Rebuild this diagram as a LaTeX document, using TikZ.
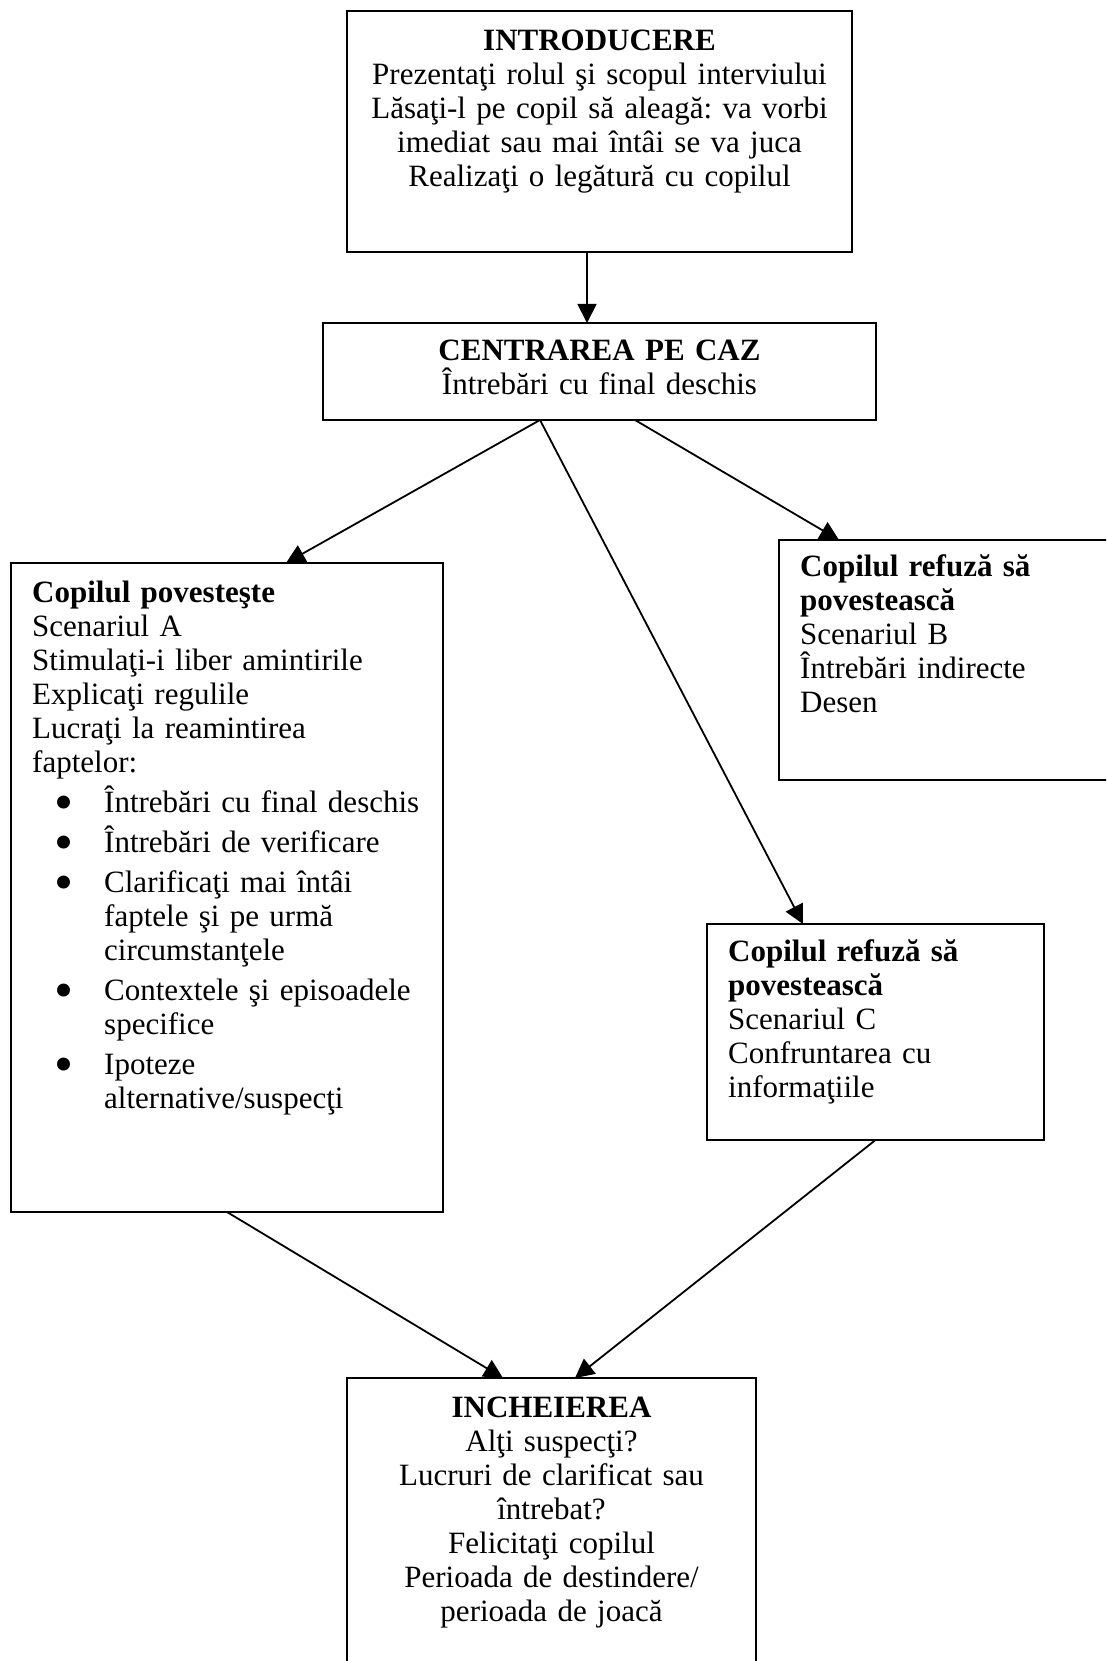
\documentclass[tikz,border=0pt]{standalone}
\usepackage{fontspec}
\setmainfont{Liberation Serif}
\usetikzlibrary{arrows.meta}
\tikzset{
>={Triangle[length=19pt,width=19pt]},
caseta/.style={draw,line width=1.8pt,inner sep=0pt,outer sep=0pt,anchor=north west},
sageata/.style={->,line width=1.8pt},
text stanga/.style={inner sep=0pt,text width=#1,align=left,anchor=base west},
text centru/.style={inner sep=0pt,text width=#1,align=center,anchor=base}}
\newcommand{\punct}{\makebox[72pt][l]{\hspace*{22pt}\smash{\raisebox{-8pt}{\scalebox{1.75}{\textbullet}}}}}
\newcommand{\retras}{\hspace*{72pt}}

\begin{document}
\begin{tikzpicture}[x=1pt,y=-1pt,font=\fontsize{31}{34}\selectfont\frenchspacing]
\clip (0,0) rectangle (1106,1661);

\node[caseta,minimum width=505pt,minimum height=241pt] (intro) at (347,11) {};
\node[caseta,minimum width=553pt,minimum height=97pt] (centru) at (323,323) {};
\node[caseta,minimum width=432pt,minimum height=649pt] (povesteste) at (11,563) {};
\node[caseta,minimum width=360pt,minimum height=240pt] (refuzB) at (779,540) {};
\node[caseta,minimum width=337pt,minimum height=216pt] (refuzC) at (707,924) {};
\node[caseta,minimum width=409pt,minimum height=330pt] (final) at (347,1378) {};

\node[text centru=500pt] (intro text) at (599.5,51) {\textbf{INTRODUCERE}\\Prezentaţi rolul şi scopul interviului\\Lăsaţi-l pe copil să aleagă: va vorbi\\imediat sau mai întâi se va juca\\Realizaţi o legătură cu copilul};
\node[text centru=540pt] (centru text) at (599.5,360) {\textbf{CENTRAREA PE CAZ}\\Întrebări cu final deschis};
\node[text stanga=420pt] (povesteste text) at (32,602) {\textbf{Copilul povesteşte}\\Scenariul A\\Stimulaţi-i liber amintirile\\Explicaţi regulile\\Lucraţi la reamintirea\\faptelor:\\[6pt]
\punct Întrebări cu final deschis\\[6pt]
\punct Întrebări de verificare\\[6pt]
\punct Clarificaţi mai întâi\\\retras faptele şi pe urmă\\\retras circumstanţele\\[6pt]
\punct Contextele şi episoadele\\\retras specifice\\[6pt]
\punct Ipoteze\\\retras alternative/suspecţi};
\node[text stanga=300pt] (refuzB text) at (800,576) {\textbf{Copilul refuză să}\\\textbf{povestească}\\Scenariul B\\Întrebări indirecte\\Desen};
\node[text stanga=300pt] (refuzC text) at (728,961) {\textbf{Copilul refuză să}\\\textbf{povestească}\\Scenariul C\\Confruntarea cu\\informaţiile};
\node[text centru=400pt] (final text) at (551.5,1417) {\textbf{INCHEIEREA}\\Alţi suspecţi?\\Lucruri de clarificat sau\\întrebat?\\Felicitaţi copilul\\Perioada de destindere/\\perioada de joacă};

\draw[sageata] ([xshift=-12.5pt]intro.south) -- ([xshift=-12.5pt]centru.north);
\draw[sageata] ([xshift=-59.5pt]centru.south) -- ([xshift=59pt]povesteste.north);
\draw[sageata] ([xshift=-59.5pt]centru.south) -- ([xshift=-72.5pt]refuzC.north);
\draw[sageata] ([xshift=35.5pt]centru.south) -- ([xshift=60pt]refuzB.north west);
\draw[sageata] (povesteste.south) -- ([xshift=-48.5pt]final.north);
\draw[sageata] (refuzC.south) -- ([xshift=23.5pt]final.north);

\end{tikzpicture}
\end{document}
